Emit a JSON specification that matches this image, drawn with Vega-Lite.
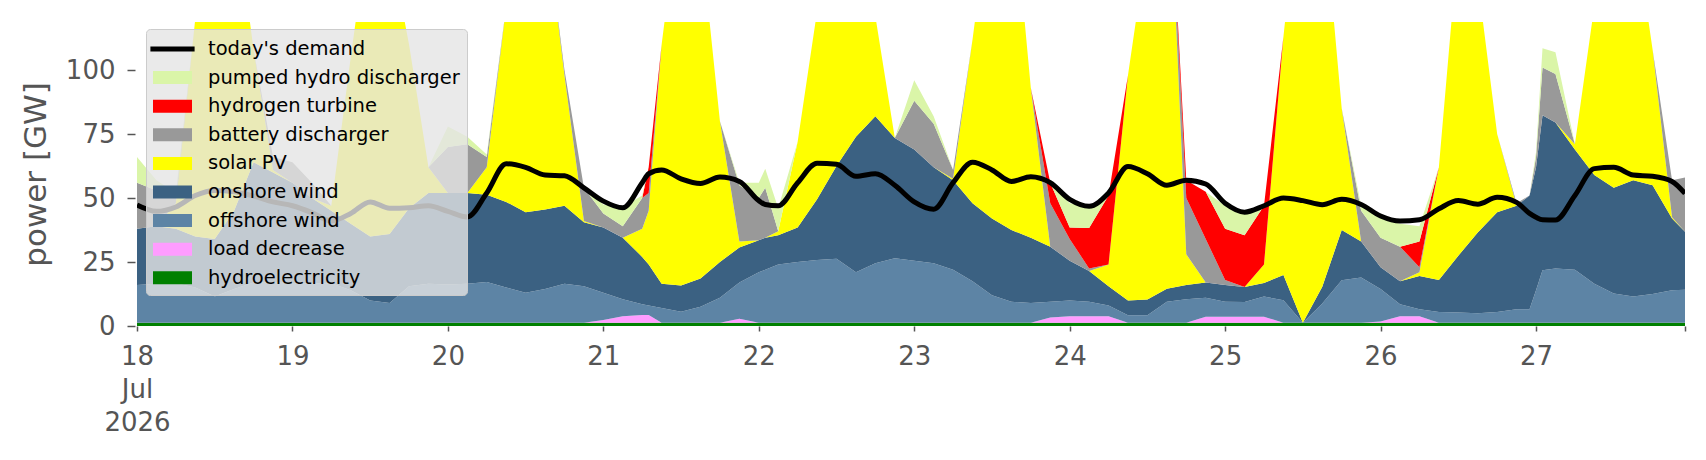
{
  "$schema": "https://vega.github.io/schema/vega-lite/v6.json",
  "description": "Power dispatch stack with today's demand",
  "width": 1548,
  "height": 304,
  "autosize": {"type": "none"},
  "padding": {"left": 137, "top": 22, "right": 21, "bottom": 134},
  "background": "white",
  "config": {"view": {"stroke": null}, "font": "DejaVu Sans"},
  "data": {
    "values": [
      {"t": "2026-07-18T00:00", "hy": 1.3, "ld": 0, "off": 14.7, "on": 22, "pv": 0, "bat": 18, "h2": 0, "ph": 10, "d": 47.3},
      {"t": "2026-07-18T03:00", "hy": 1.3, "ld": 0, "off": 15.2, "on": 22.5, "pv": 0, "bat": 14, "h2": 0, "ph": 4, "d": 44.8},
      {"t": "2026-07-18T06:00", "hy": 1.3, "ld": 0, "off": 15.4, "on": 21.3, "pv": 10, "bat": 2, "h2": 0, "ph": 2, "d": 46.5},
      {"t": "2026-07-18T09:00", "hy": 1.3, "ld": 0, "off": 13.7, "on": 20, "pv": 85, "bat": 0, "h2": 0, "ph": 0, "d": 51},
      {"t": "2026-07-18T12:00", "hy": 1.3, "ld": 0, "off": 10.2, "on": 22.5, "pv": 136, "bat": 0, "h2": 0, "ph": 0, "d": 53},
      {"t": "2026-07-18T15:00", "hy": 1.3, "ld": 0, "off": 13.2, "on": 30.5, "pv": 120, "bat": 0, "h2": 0, "ph": 0, "d": 52.5},
      {"t": "2026-07-18T18:00", "hy": 1.3, "ld": 0, "off": 15.7, "on": 47, "pv": 44, "bat": 0, "h2": 0, "ph": 0, "d": 50.8},
      {"t": "2026-07-18T21:00", "hy": 1.3, "ld": 0, "off": 15.7, "on": 43, "pv": 1, "bat": 5, "h2": 0, "ph": 0, "d": 48.5},
      {"t": "2026-07-19T00:00", "hy": 1.3, "ld": 0, "off": 15.5, "on": 39.2, "pv": 0, "bat": 8, "h2": 0, "ph": 0, "d": 47},
      {"t": "2026-07-19T03:00", "hy": 1.3, "ld": 0, "off": 15.4, "on": 33.3, "pv": 0, "bat": 6, "h2": 0, "ph": 0, "d": 44.3},
      {"t": "2026-07-19T06:00", "hy": 1.3, "ld": 0, "off": 15.4, "on": 28.3, "pv": 2, "bat": 0, "h2": 0, "ph": 0, "d": 41},
      {"t": "2026-07-19T09:00", "hy": 1.3, "ld": 0, "off": 12.7, "on": 26, "pv": 65, "bat": 0, "h2": 0, "ph": 0, "d": 44},
      {"t": "2026-07-19T12:00", "hy": 1.3, "ld": 0, "off": 8.7, "on": 25, "pv": 125, "bat": 0, "h2": 0, "ph": 0, "d": 48.5},
      {"t": "2026-07-19T15:00", "hy": 1.3, "ld": 0, "off": 7.7, "on": 27, "pv": 114, "bat": 0, "h2": 0, "ph": 0, "d": 46},
      {"t": "2026-07-19T18:00", "hy": 1.3, "ld": 0, "off": 14.2, "on": 30.5, "pv": 64, "bat": 0, "h2": 0, "ph": 0, "d": 46.2},
      {"t": "2026-07-19T21:00", "hy": 1.3, "ld": 0, "off": 15.2, "on": 35.5, "pv": 10, "bat": 0, "h2": 0, "ph": 0, "d": 47},
      {"t": "2026-07-20T00:00", "hy": 1.3, "ld": 0, "off": 14.9, "on": 35.8, "pv": 0, "bat": 18, "h2": 0, "ph": 8, "d": 44.8},
      {"t": "2026-07-20T03:00", "hy": 1.3, "ld": 0, "off": 15.2, "on": 35.5, "pv": 0, "bat": 19, "h2": 0, "ph": 3, "d": 42.6},
      {"t": "2026-07-20T06:00", "hy": 1.3, "ld": 0, "off": 15.9, "on": 34.1, "pv": 10.7, "bat": 4, "h2": 0, "ph": 1, "d": 52},
      {"t": "2026-07-20T09:00", "hy": 1.3, "ld": 0, "off": 13.7, "on": 33.5, "pv": 76.5, "bat": 0, "h2": 0, "ph": 0, "d": 63.4},
      {"t": "2026-07-20T12:00", "hy": 1.3, "ld": 0, "off": 11.7, "on": 31.5, "pv": 130.5, "bat": 0, "h2": 0, "ph": 0, "d": 62},
      {"t": "2026-07-20T15:00", "hy": 1.3, "ld": 0, "off": 13.2, "on": 31, "pv": 114.5, "bat": 0, "h2": 0, "ph": 0, "d": 59},
      {"t": "2026-07-20T18:00", "hy": 1.3, "ld": 0, "off": 15.2, "on": 30.5, "pv": 51, "bat": 2, "h2": 0, "ph": 0, "d": 58.7},
      {"t": "2026-07-20T21:00", "hy": 1.3, "ld": 0, "off": 14.2, "on": 25, "pv": 0.5, "bat": 13, "h2": 0, "ph": 0, "d": 54},
      {"t": "2026-07-21T00:00", "hy": 1.3, "ld": 1, "off": 10.7, "on": 25.5, "pv": 0, "bat": 5.5, "h2": 0, "ph": 3.5, "d": 48.8},
      {"t": "2026-07-21T03:00", "hy": 1.3, "ld": 2.5, "off": 6.7, "on": 24, "pv": 0, "bat": 4.5, "h2": 0, "ph": 7.5, "d": 46.2},
      {"t": "2026-07-21T06:00", "hy": 1.3, "ld": 3, "off": 4.2, "on": 18.5, "pv": 11, "bat": 12, "h2": 0, "ph": 1, "d": 56},
      {"t": "2026-07-21T07:00", "hy": 1.3, "ld": 3, "off": 3.7, "on": 16, "pv": 21, "bat": 7, "h2": 10, "ph": 0, "d": 59.5},
      {"t": "2026-07-21T09:00", "hy": 1.3, "ld": 0, "off": 5.7, "on": 9.5, "pv": 93.5, "bat": 0, "h2": 0, "ph": 0, "d": 61},
      {"t": "2026-07-21T12:00", "hy": 1.3, "ld": 0, "off": 4.3, "on": 10.2, "pv": 154.2, "bat": 0, "h2": 0, "ph": 0, "d": 57.5},
      {"t": "2026-07-21T15:00", "hy": 1.3, "ld": 0, "off": 6.2, "on": 11.1, "pv": 134.4, "bat": 0, "h2": 0, "ph": 0, "d": 55.7},
      {"t": "2026-07-21T18:00", "hy": 1.3, "ld": 0, "off": 9.7, "on": 14, "pv": 55, "bat": 0, "h2": 0, "ph": 0, "d": 58.2},
      {"t": "2026-07-21T21:00", "hy": 1.3, "ld": 1.5, "off": 14.2, "on": 13.7, "pv": 2.3, "bat": 22, "h2": 0, "ph": 1, "d": 56.5},
      {"t": "2026-07-22T00:00", "hy": 1.3, "ld": 0, "off": 19.7, "on": 12.5, "pv": 0, "bat": 16.5, "h2": 0, "ph": 6, "d": 49},
      {"t": "2026-07-22T01:00", "hy": 1.3, "ld": 0, "off": 20.7, "on": 12.5, "pv": 0, "bat": 19.5, "h2": 0, "ph": 7.5, "d": 47.5},
      {"t": "2026-07-22T03:00", "hy": 1.3, "ld": 0, "off": 22.7, "on": 11.5, "pv": 1.5, "bat": 0, "h2": 0, "ph": 9, "d": 47},
      {"t": "2026-07-22T06:00", "hy": 1.3, "ld": 0, "off": 23.7, "on": 13.5, "pv": 33.5, "bat": 0, "h2": 0, "ph": 0, "d": 56},
      {"t": "2026-07-22T09:00", "hy": 1.3, "ld": 0, "off": 24.5, "on": 23.7, "pv": 73.5, "bat": 0, "h2": 0, "ph": 0, "d": 63.6},
      {"t": "2026-07-22T12:00", "hy": 1.3, "ld": 0, "off": 25, "on": 36.2, "pv": 107.5, "bat": 0, "h2": 0, "ph": 0, "d": 63.2},
      {"t": "2026-07-22T15:00", "hy": 1.3, "ld": 0, "off": 19.7, "on": 53, "pv": 91, "bat": 0, "h2": 0, "ph": 0, "d": 58.5},
      {"t": "2026-07-22T18:00", "hy": 1.3, "ld": 0, "off": 23.2, "on": 57.5, "pv": 39, "bat": 0, "h2": 0, "ph": 0, "d": 59.5},
      {"t": "2026-07-22T21:00", "hy": 1.3, "ld": 0, "off": 25.2, "on": 47, "pv": 0, "bat": 0, "h2": 0, "ph": 0, "d": 55},
      {"t": "2026-07-23T00:00", "hy": 1.3, "ld": 0, "off": 24.2, "on": 43.5, "pv": 0, "bat": 19, "h2": 0, "ph": 8, "d": 48.5},
      {"t": "2026-07-23T03:00", "hy": 1.3, "ld": 0, "off": 23.2, "on": 37.5, "pv": 0, "bat": 17, "h2": 0, "ph": 3, "d": 45.6},
      {"t": "2026-07-23T06:00", "hy": 1.3, "ld": 0, "off": 20.7, "on": 35, "pv": 0.5, "bat": 3.5, "h2": 0, "ph": 0, "d": 56},
      {"t": "2026-07-23T09:00", "hy": 1.3, "ld": 0, "off": 16.2, "on": 30.5, "pv": 64, "bat": 0, "h2": 0, "ph": 0, "d": 64},
      {"t": "2026-07-23T12:00", "hy": 1.3, "ld": 0, "off": 10.7, "on": 30, "pv": 128, "bat": 0, "h2": 0, "ph": 0, "d": 61},
      {"t": "2026-07-23T15:00", "hy": 1.3, "ld": 0, "off": 8.2, "on": 28, "pv": 137.5, "bat": 0, "h2": 0, "ph": 0, "d": 56.5},
      {"t": "2026-07-23T18:00", "hy": 1.3, "ld": 0, "off": 7.7, "on": 25.5, "pv": 58.5, "bat": 0, "h2": 0, "ph": 0, "d": 58.3},
      {"t": "2026-07-23T21:00", "hy": 1.3, "ld": 2, "off": 6.2, "on": 21.5, "pv": 0, "bat": 17, "h2": 8, "ph": 0, "d": 56},
      {"t": "2026-07-24T00:00", "hy": 1.3, "ld": 2.5, "off": 6.2, "on": 15.5, "pv": 0, "bat": 8.5, "h2": 4.5, "ph": 9.5, "d": 49.5},
      {"t": "2026-07-24T03:00", "hy": 1.3, "ld": 2.5, "off": 5.7, "on": 12, "pv": 0, "bat": 1, "h2": 15.8, "ph": 8.7, "d": 46.8},
      {"t": "2026-07-24T06:00", "hy": 1.3, "ld": 2.5, "off": 4.2, "on": 7.5, "pv": 8.5, "bat": 0, "h2": 27, "ph": 0, "d": 52},
      {"t": "2026-07-24T09:00", "hy": 1.3, "ld": 0, "off": 2.9, "on": 5.8, "pv": 88, "bat": 0, "h2": 0, "ph": 0, "d": 62.3},
      {"t": "2026-07-24T12:00", "hy": 1.3, "ld": 0, "off": 2.9, "on": 6.2, "pv": 139.6, "bat": 0, "h2": 0, "ph": 0, "d": 59.5},
      {"t": "2026-07-24T15:00", "hy": 1.3, "ld": 0, "off": 8.2, "on": 5.1, "pv": 185.4, "bat": 0, "h2": 0, "ph": 0, "d": 55},
      {"t": "2026-07-24T18:00", "hy": 1.3, "ld": 0, "off": 9.2, "on": 5.5, "pv": 12, "bat": 22, "h2": 7, "ph": 0, "d": 57},
      {"t": "2026-07-24T21:00", "hy": 1.3, "ld": 2.3, "off": 7.4, "on": 6, "pv": 0, "bat": 17, "h2": 18.5, "ph": 0, "d": 55.5},
      {"t": "2026-07-25T00:00", "hy": 1.3, "ld": 2.3, "off": 5.9, "on": 6.5, "pv": 0, "bat": 2, "h2": 20, "ph": 9, "d": 48},
      {"t": "2026-07-25T03:00", "hy": 1.3, "ld": 2.3, "off": 5.8, "on": 5.8, "pv": 0, "bat": 0, "h2": 20.3, "ph": 8.7, "d": 44.5},
      {"t": "2026-07-25T06:00", "hy": 1.3, "ld": 2.3, "off": 7.9, "on": 5.3, "pv": 7.2, "bat": 0, "h2": 23, "ph": 0, "d": 47},
      {"t": "2026-07-25T09:00", "hy": 1.3, "ld": 0, "off": 8.8, "on": 9.8, "pv": 93.1, "bat": 0, "h2": 0, "ph": 0, "d": 50},
      {"t": "2026-07-25T12:00", "hy": 1.3, "ld": 0, "off": 0, "on": 0, "pv": 183.7, "bat": 0, "h2": 0, "ph": 0, "d": 49},
      {"t": "2026-07-25T15:00", "hy": 1.3, "ld": 0, "off": 7.5, "on": 6.5, "pv": 154.7, "bat": 0, "h2": 0, "ph": 0, "d": 47.4},
      {"t": "2026-07-25T18:00", "hy": 1.3, "ld": 0, "off": 16.6, "on": 19.6, "pv": 47.5, "bat": 0, "h2": 0, "ph": 0, "d": 49.5},
      {"t": "2026-07-25T21:00", "hy": 1.3, "ld": 0, "off": 17.7, "on": 14, "pv": 0, "bat": 12, "h2": 0, "ph": 2, "d": 47.5},
      {"t": "2026-07-26T00:00", "hy": 1.3, "ld": 0.5, "off": 12.7, "on": 8.5, "pv": 0, "bat": 11.5, "h2": 0, "ph": 8, "d": 43},
      {"t": "2026-07-26T03:00", "hy": 1.3, "ld": 2.5, "off": 4.7, "on": 9, "pv": 0, "bat": 13.5, "h2": 0, "ph": 9, "d": 41},
      {"t": "2026-07-26T06:00", "hy": 1.3, "ld": 2.5, "off": 2.7, "on": 13, "pv": 1.5, "bat": 2, "h2": 10, "ph": 6, "d": 41.5},
      {"t": "2026-07-26T09:00", "hy": 1.3, "ld": 0, "off": 4.2, "on": 12.5, "pv": 44, "bat": 0, "h2": 0, "ph": 0, "d": 45.8},
      {"t": "2026-07-26T12:00", "hy": 1.3, "ld": 0, "off": 4, "on": 22.2, "pv": 122.5, "bat": 0, "h2": 0, "ph": 0, "d": 49},
      {"t": "2026-07-26T15:00", "hy": 1.3, "ld": 0, "off": 3.7, "on": 31.5, "pv": 98.5, "bat": 0, "h2": 0, "ph": 0, "d": 47.6},
      {"t": "2026-07-26T18:00", "hy": 1.3, "ld": 0, "off": 4.2, "on": 39, "pv": 30.5, "bat": 0, "h2": 0, "ph": 0, "d": 50.3},
      {"t": "2026-07-26T21:00", "hy": 1.3, "ld": 0, "off": 5.2, "on": 40.5, "pv": 0, "bat": 1, "h2": 0, "ph": 0, "d": 48.3},
      {"t": "2026-07-26T23:00", "hy": 1.3, "ld": 0, "off": 5.2, "on": 44.5, "pv": 0, "bat": 0, "h2": 0, "ph": 0, "d": 44},
      {"t": "2026-07-27T00:00", "hy": 1.3, "ld": 0, "off": 12.7, "on": 48, "pv": 0, "bat": 4, "h2": 0, "ph": 2, "d": 42.5},
      {"t": "2026-07-27T01:00", "hy": 1.3, "ld": 0, "off": 20.5, "on": 60.6, "pv": 0, "bat": 18.6, "h2": 0, "ph": 7.5, "d": 41.5},
      {"t": "2026-07-27T03:00", "hy": 1.3, "ld": 0, "off": 21.2, "on": 57, "pv": 0, "bat": 19, "h2": 0, "ph": 8.5, "d": 41.4},
      {"t": "2026-07-27T06:00", "hy": 1.3, "ld": 0, "off": 20.7, "on": 47, "pv": 2, "bat": 0, "h2": 0, "ph": 0, "d": 51},
      {"t": "2026-07-27T09:00", "hy": 1.3, "ld": 0, "off": 15.2, "on": 42.5, "pv": 66, "bat": 0, "h2": 0, "ph": 0, "d": 61.5},
      {"t": "2026-07-27T12:00", "hy": 1.3, "ld": 0, "off": 11.4, "on": 41.3, "pv": 116, "bat": 0, "h2": 0, "ph": 0, "d": 62},
      {"t": "2026-07-27T15:00", "hy": 1.3, "ld": 0, "off": 10.2, "on": 45.5, "pv": 103, "bat": 0, "h2": 0, "ph": 0, "d": 59},
      {"t": "2026-07-27T18:00", "hy": 1.3, "ld": 0, "off": 11.2, "on": 42.5, "pv": 53, "bat": 0, "h2": 0, "ph": 0, "d": 58.5},
      {"t": "2026-07-27T21:00", "hy": 1.3, "ld": 0, "off": 12.7, "on": 28, "pv": 0.5, "bat": 14.5, "h2": 0, "ph": 0, "d": 56.5},
      {"t": "2026-07-27T23:00", "hy": 1.3, "ld": 0, "off": 12.9, "on": 22.6, "pv": 0, "bat": 21.2, "h2": 0, "ph": 0, "d": 51.8}
    ]
  },
  "layer": [
    {
      "transform": [
        {"fold": ["hy", "ld", "off", "on", "pv", "bat", "h2", "ph"], "as": ["key", "value"]},
        {
          "lookup": "key",
          "from": {
            "data": {
              "values": [
                {"key": "hy", "label": "hydroelectricity", "ord": 1},
                {"key": "ld", "label": "load decrease", "ord": 2},
                {"key": "off", "label": "offshore wind", "ord": 3},
                {"key": "on", "label": "onshore wind", "ord": 4},
                {"key": "pv", "label": "solar PV", "ord": 5},
                {"key": "bat", "label": "battery discharger", "ord": 6},
                {"key": "h2", "label": "hydrogen turbine", "ord": 7},
                {"key": "ph", "label": "pumped hydro discharger", "ord": 8}
              ]
            },
            "key": "key",
            "fields": ["label", "ord"]
          }
        }
      ],
      "mark": {"type": "area", "clip": true, "opacity": 1, "interpolate": "linear"},
      "encoding": {
        "x": {
          "field": "t",
          "type": "temporal",
          "scale": {
            "domain": [
              {"year": 2026, "month": 7, "date": 18, "hours": 0},
              {"year": 2026, "month": 7, "date": 27, "hours": 23}
            ],
            "nice": false
          },
          "axis": {
            "title": null,
            "values": [
              {"year": 2026, "month": 7, "date": 18},
              {"year": 2026, "month": 7, "date": 19},
              {"year": 2026, "month": 7, "date": 20},
              {"year": 2026, "month": 7, "date": 21},
              {"year": 2026, "month": 7, "date": 22},
              {"year": 2026, "month": 7, "date": 23},
              {"year": 2026, "month": 7, "date": 24},
              {"year": 2026, "month": 7, "date": 25},
              {"year": 2026, "month": 7, "date": 26},
              {"year": 2026, "month": 7, "date": 27},
              {"year": 2026, "month": 7, "date": 27, "hours": 23}
            ],
            "labelExpr": "date(datum.value) == 18 ? ['18', 'Jul', '2026'] : (hours(datum.value) == 23 ? '' : timeFormat(datum.value, '%d'))",
            "labelFont": "DejaVu Sans",
            "labelFontSize": 26,
            "labelColor": "#555555",
            "labelPadding": 12,
            "labelLineHeight": 33,
            "labelOverlap": false,
            "labelFlush": false,
            "tickColor": "#555555",
            "tickSize": 5,
            "tickWidth": 1.5,
            "domain": false,
            "grid": false
          }
        },
        "y": {
          "field": "value",
          "type": "quantitative",
          "stack": "zero",
          "scale": {"domain": [0, 118.8], "nice": false},
          "axis": {
            "title": "power [GW]",
            "values": [0, 25, 50, 75, 100],
            "titleFont": "DejaVu Sans",
            "titleFontSize": 31,
            "titleFontWeight": "normal",
            "titleColor": "#555555",
            "titlePadding": 13,
            "labelFont": "DejaVu Sans",
            "labelFontSize": 26,
            "labelColor": "#555555",
            "labelPadding": 12,
            "tickColor": "#555555",
            "tickSize": 8,
            "tickWidth": 1.5,
            "offset": 2,
            "domain": false,
            "grid": false
          }
        },
        "color": {
          "field": "label",
          "type": "nominal",
          "scale": {
            "domain": ["today's demand", "pumped hydro discharger", "hydrogen turbine", "battery discharger", "solar PV", "onshore wind", "offshore wind", "load decrease", "hydroelectricity"],
            "range": ["#000000", "#daf5a8", "#ff0000", "#999999", "#ffff00", "#3b6182", "#5d84a5", "#ff9cff", "#008000"]
          },
          "legend": {
            "title": null,
            "orient": "none",
            "direction": "vertical",
            "legendX": 9,
            "legendY": 7,
            "fillColor": "rgba(229,229,229,0.8)",
            "strokeColor": "#cccccc",
            "cornerRadius": 4,
            "padding": 7,
            "labelFont": "DejaVu Sans",
            "labelFontSize": 19.5,
            "labelColor": "#000000",
            "labelOffset": 29,
            "labelLimit": 400,
            "symbolSize": 676,
            "rowPadding": 5.6,
            "symbolOpacity": 1,
            "symbolStrokeWidth": 0,
            "encode": {
              "symbols": {
                "update": {
                  "shape": {"signal": "datum.value === \"today's demand\" ? 'M-1.2,-0.2H2.2V0.2H-1.2Z' : 'M-1,-0.5H2V0.5H-1Z'"},
                  "strokeWidth": {"value": 0}
                }
              }
            }
          }
        },
        "order": {"field": "ord", "type": "quantitative", "sort": "ascending"}
      }
    },
    {
      "mark": {"type": "line", "strokeWidth": 5, "interpolate": "monotone", "clip": true},
      "encoding": {
        "x": {"field": "t", "type": "temporal"},
        "y": {"field": "d", "type": "quantitative"},
        "color": {"datum": "today's demand"}
      }
    }
  ]
}
